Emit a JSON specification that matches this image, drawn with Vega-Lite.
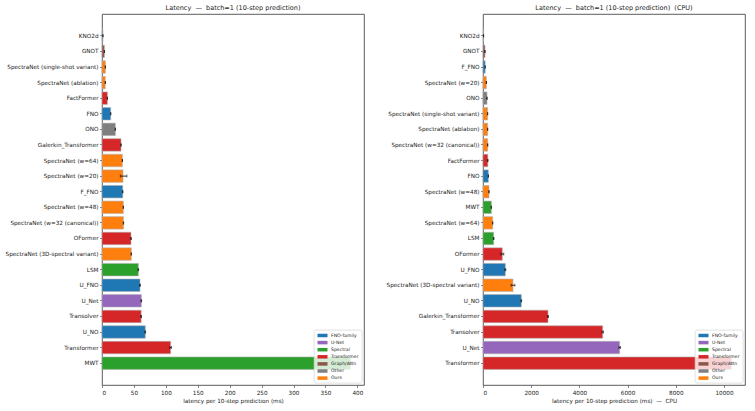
{
  "$schema": "https://vega.github.io/schema/vega-lite/v6.json",
  "background": "white",
  "padding": {"left": 4, "top": 4, "right": 4, "bottom": 4},
  "config": {
    "font": "DejaVu Sans",
    "view": {"stroke": "#333333", "strokeWidth": 0.8},
    "axis": {
      "labelFont": "DejaVu Sans", "labelFontSize": 5.7, "labelColor": "#222222", "labelOverlap": false,
      "tickColor": "#333333", "tickSize": 2.5, "tickWidth": 0.6,
      "domain": false, "grid": false, "labelPadding": 1.5,
      "titleFont": "DejaVu Sans", "titleFontSize": 5.7, "titleFontWeight": "normal", "titleColor": "#222222", "titlePadding": 3
    },
    "title": {"font": "DejaVu Sans", "fontSize": 6.5, "fontWeight": "normal", "color": "#222222", "offset": 3},
    "legend": {
      "orient": "bottom-right", "offset": 2, "title": null,
      "fillColor": "rgba(255,255,255,0.8)", "strokeColor": "#cccccc", "strokeWidth": 0.6, "cornerRadius": 2, "padding": 3,
      "labelFont": "DejaVu Sans", "labelFontSize": 4.6, "labelColor": "#222222",
      "symbolType": "M-2,-0.7H2V0.7H-2Z", "symbolSize": 25, "symbolStrokeWidth": 0,
      "symbolOffset": 3, "labelOffset": 6, "rowPadding": 1.1
    },
    "concat": {"spacing": 20}
  },
  "datasets": {
    "gpu": [
      {"model": "KNO2d", "family": "Other", "ms": 1.5, "lo": 1.2, "hi": 1.8},
      {"model": "GNOT", "family": "Graph/Attn", "ms": 3.7, "lo": 3.4, "hi": 4.0},
      {"model": "SpectraNet (single-shot variant)", "family": "Ours", "ms": 5.3, "lo": 5.0, "hi": 5.6},
      {"model": "SpectraNet (ablation)", "family": "Ours", "ms": 5.1, "lo": 4.8, "hi": 5.4},
      {"model": "FactFormer", "family": "Transformer", "ms": 8.4, "lo": 8.1, "hi": 8.7},
      {"model": "FNO", "family": "FNO-family", "ms": 13.6, "lo": 13.2, "hi": 14.0},
      {"model": "ONO", "family": "Other", "ms": 20.9, "lo": 20.5, "hi": 21.3},
      {"model": "Galerkin_Transformer", "family": "Transformer", "ms": 29.8, "lo": 29.4, "hi": 30.2},
      {"model": "SpectraNet (w=64)", "family": "Ours", "ms": 31.9, "lo": 31.5, "hi": 32.3},
      {"model": "SpectraNet (w=20)", "family": "Ours", "ms": 32.9, "lo": 28.6, "hi": 39.0},
      {"model": "F_FNO", "family": "FNO-family", "ms": 32.5, "lo": 32.1, "hi": 32.9},
      {"model": "SpectraNet (w=48)", "family": "Ours", "ms": 33.4, "lo": 33.0, "hi": 33.8},
      {"model": "SpectraNet (w=32 (canonical))", "family": "Ours", "ms": 33.6, "lo": 33.2, "hi": 34.0},
      {"model": "OFormer", "family": "Transformer", "ms": 45.4, "lo": 44.9, "hi": 45.9},
      {"model": "SpectraNet (3D-spectral variant)", "family": "Ours", "ms": 45.9, "lo": 45.4, "hi": 46.4},
      {"model": "LSM", "family": "Spectral", "ms": 56.9, "lo": 56.3, "hi": 57.5},
      {"model": "U_FNO", "family": "FNO-family", "ms": 59.5, "lo": 58.9, "hi": 60.1},
      {"model": "U_Net", "family": "U-Net", "ms": 61.6, "lo": 61.0, "hi": 62.2},
      {"model": "Transolver", "family": "Transformer", "ms": 61.3, "lo": 60.7, "hi": 61.9},
      {"model": "U_NO", "family": "FNO-family", "ms": 67.8, "lo": 67.2, "hi": 68.4},
      {"model": "Transformer", "family": "Transformer", "ms": 107.5, "lo": 106.3, "hi": 108.7},
      {"model": "MWT", "family": "Spectral", "ms": 389, "lo": 387, "hi": 391}
    ],
    "cpu": [
      {"model": "KNO2d", "family": "Other", "ms": 25, "lo": 20, "hi": 30},
      {"model": "GNOT", "family": "Graph/Attn", "ms": 83, "lo": 75, "hi": 91},
      {"model": "F_FNO", "family": "FNO-family", "ms": 90, "lo": 82, "hi": 98},
      {"model": "SpectraNet (w=20)", "family": "Ours", "ms": 138, "lo": 128, "hi": 148},
      {"model": "ONO", "family": "Other", "ms": 166, "lo": 156, "hi": 176},
      {"model": "SpectraNet (single-shot variant)", "family": "Ours", "ms": 190, "lo": 180, "hi": 200},
      {"model": "SpectraNet (ablation)", "family": "Ours", "ms": 192, "lo": 182, "hi": 202},
      {"model": "SpectraNet (w=32 (canonical))", "family": "Ours", "ms": 194, "lo": 184, "hi": 204},
      {"model": "FactFormer", "family": "Transformer", "ms": 200, "lo": 190, "hi": 210},
      {"model": "FNO", "family": "FNO-family", "ms": 221, "lo": 211, "hi": 231},
      {"model": "SpectraNet (w=48)", "family": "Ours", "ms": 249, "lo": 239, "hi": 259},
      {"model": "MWT", "family": "Spectral", "ms": 346, "lo": 336, "hi": 356},
      {"model": "SpectraNet (w=64)", "family": "Ours", "ms": 401, "lo": 391, "hi": 411},
      {"model": "LSM", "family": "Spectral", "ms": 442, "lo": 430, "hi": 454},
      {"model": "OFormer", "family": "Transformer", "ms": 802, "lo": 740, "hi": 864},
      {"model": "U_FNO", "family": "FNO-family", "ms": 927, "lo": 905, "hi": 949},
      {"model": "SpectraNet (3D-spectral variant)", "family": "Ours", "ms": 1245, "lo": 1165, "hi": 1325},
      {"model": "U_NO", "family": "FNO-family", "ms": 1590, "lo": 1575, "hi": 1605},
      {"model": "Galerkin_Transformer", "family": "Transformer", "ms": 2697, "lo": 2677, "hi": 2717},
      {"model": "Transolver", "family": "Transformer", "ms": 4965, "lo": 4935, "hi": 4995},
      {"model": "U_Net", "family": "U-Net", "ms": 5670, "lo": 5640, "hi": 5700},
      {"model": "Transformer", "family": "Transformer", "ms": 10300, "lo": 10250, "hi": 10350}
    ]
  },
  "hconcat": [
    {
      "title": "Latency \u00a0—\u00a0 batch=1 (10-step prediction)",
      "width": 262,
      "height": 371,
      "data": {"name": "gpu"},
      "encoding": {
        "y": {
          "field": "model", "type": "nominal",
          "sort": ["KNO2d", "GNOT", "SpectraNet (single-shot variant)", "SpectraNet (ablation)", "FactFormer", "FNO", "ONO", "Galerkin_Transformer", "SpectraNet (w=64)", "SpectraNet (w=20)", "F_FNO", "SpectraNet (w=48)", "SpectraNet (w=32 (canonical))", "OFormer", "SpectraNet (3D-spectral variant)", "LSM", "U_FNO", "U_Net", "Transolver", "U_NO", "Transformer", "MWT"],
          "scale": {"paddingInner": 0.2, "paddingOuter": 1.09},
          "axis": {"title": null}
        }
      },
      "layer": [
        {
          "mark": {"type": "bar", "stroke": "#b0b0b0", "strokeWidth": 0.6},
          "encoding": {
            "x": {
              "field": "ms", "type": "quantitative",
              "scale": {"domain": [0, 410.4], "nice": false, "zero": true},
              "axis": {"values": [0, 50, 100, 150, 200, 250, 300, 350, 400], "title": "latency per 10-step prediction (ms)"}
            },
            "color": {
              "field": "family", "type": "nominal",
              "scale": {
                "domain": ["FNO-family", "U-Net", "Spectral", "Transformer", "Graph/Attn", "Other", "Ours"],
                "range": ["#1f77b4", "#9467bd", "#2ca02c", "#d62728", "#8c564b", "#7f7f7f", "#ff7f0e"]
              }
            }
          }
        },
        {
          "mark": {"type": "rule", "color": "black", "strokeWidth": 0.8},
          "encoding": {
            "x": {"field": "lo", "type": "quantitative", "axis": {"values": [0, 50, 100, 150, 200, 250, 300, 350, 400], "title": "latency per 10-step prediction (ms)"}},
            "x2": {"field": "hi"}
          }
        },
        {
          "mark": {"type": "tick", "color": "black", "thickness": 0.8, "size": 3},
          "encoding": {"x": {"field": "lo", "type": "quantitative", "axis": {"values": [0, 50, 100, 150, 200, 250, 300, 350, 400], "title": "latency per 10-step prediction (ms)"}}}
        },
        {
          "mark": {"type": "tick", "color": "black", "thickness": 0.8, "size": 3},
          "encoding": {"x": {"field": "hi", "type": "quantitative", "axis": {"values": [0, 50, 100, 150, 200, 250, 300, 350, 400], "title": "latency per 10-step prediction (ms)"}}}
        }
      ]
    },
    {
      "title": "Latency \u00a0—\u00a0 batch=1 (10-step prediction) \u00a0(CPU)",
      "width": 262,
      "height": 371,
      "data": {"name": "cpu"},
      "encoding": {
        "y": {
          "field": "model", "type": "nominal",
          "sort": ["KNO2d", "GNOT", "F_FNO", "SpectraNet (w=20)", "ONO", "SpectraNet (single-shot variant)", "SpectraNet (ablation)", "SpectraNet (w=32 (canonical))", "FactFormer", "FNO", "SpectraNet (w=48)", "MWT", "SpectraNet (w=64)", "LSM", "OFormer", "U_FNO", "SpectraNet (3D-spectral variant)", "U_NO", "Galerkin_Transformer", "Transolver", "U_Net", "Transformer"],
          "scale": {"paddingInner": 0.2, "paddingOuter": 1.09},
          "axis": {"title": null}
        }
      },
      "layer": [
        {
          "mark": {"type": "bar", "stroke": "#b0b0b0", "strokeWidth": 0.6},
          "encoding": {
            "x": {
              "field": "ms", "type": "quantitative",
              "scale": {"domain": [0, 10871], "nice": false, "zero": true},
              "axis": {"values": [0, 2000, 4000, 6000, 8000, 10000], "format": "d", "title": "latency per 10-step prediction (ms) \u00a0—\u00a0 CPU"}
            },
            "color": {
              "field": "family", "type": "nominal",
              "scale": {
                "domain": ["FNO-family", "U-Net", "Spectral", "Transformer", "Graph/Attn", "Other", "Ours"],
                "range": ["#1f77b4", "#9467bd", "#2ca02c", "#d62728", "#8c564b", "#7f7f7f", "#ff7f0e"]
              }
            }
          }
        },
        {
          "mark": {"type": "rule", "color": "black", "strokeWidth": 0.8},
          "encoding": {
            "x": {"field": "lo", "type": "quantitative", "axis": {"values": [0, 2000, 4000, 6000, 8000, 10000], "format": "d", "title": "latency per 10-step prediction (ms) \u00a0—\u00a0 CPU"}},
            "x2": {"field": "hi"}
          }
        },
        {
          "mark": {"type": "tick", "color": "black", "thickness": 0.8, "size": 3},
          "encoding": {"x": {"field": "lo", "type": "quantitative", "axis": {"values": [0, 2000, 4000, 6000, 8000, 10000], "format": "d", "title": "latency per 10-step prediction (ms) \u00a0—\u00a0 CPU"}}}
        },
        {
          "mark": {"type": "tick", "color": "black", "thickness": 0.8, "size": 3},
          "encoding": {"x": {"field": "hi", "type": "quantitative", "axis": {"values": [0, 2000, 4000, 6000, 8000, 10000], "format": "d", "title": "latency per 10-step prediction (ms) \u00a0—\u00a0 CPU"}}}
        }
      ]
    }
  ],
  "resolve": {
    "scale": {"color": "independent", "x": "independent", "y": "independent"},
    "legend": {"color": "independent"}
  }
}
